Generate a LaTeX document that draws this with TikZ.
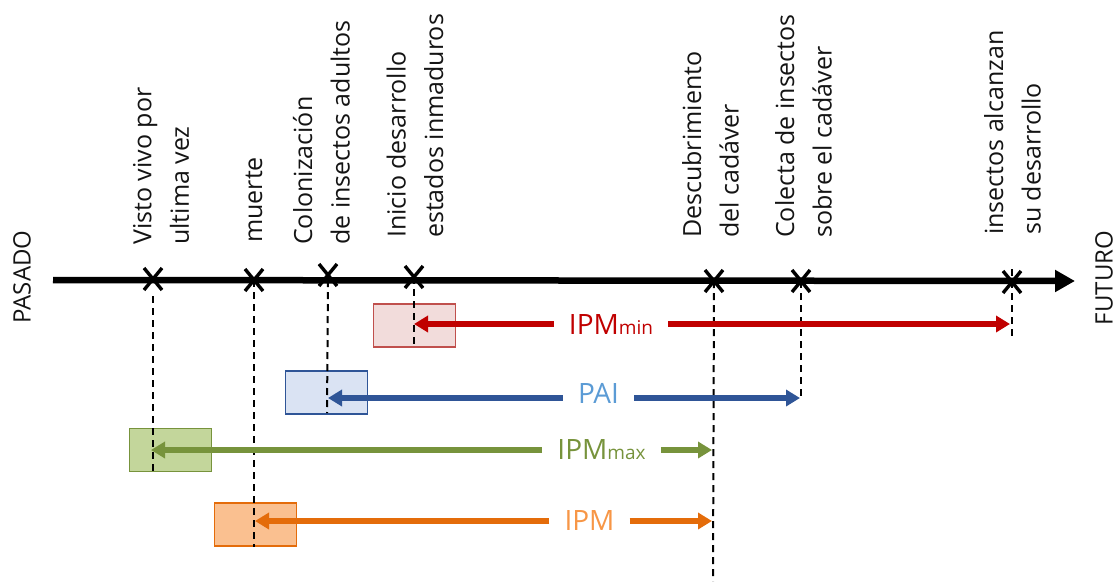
\documentclass[tikz,border=0pt]{standalone}
\usepackage{fontspec}
\setmainfont{Open Sans}
\usetikzlibrary{arrows.meta,shapes.misc}
\definecolor{txt}{HTML}{141414}
\definecolor{redA}{HTML}{C00000}
\definecolor{redB}{HTML}{C0504D}
\definecolor{redF}{HTML}{F2DCDB}
\definecolor{bluA}{HTML}{2F5597}
\definecolor{bluF}{HTML}{DAE3F3}
\definecolor{bluT}{HTML}{5B9BD5}
\definecolor{grnA}{HTML}{77933C}
\definecolor{grnF}{HTML}{C3D69B}
\definecolor{orgA}{HTML}{E46C0A}
\definecolor{orgF}{HTML}{FAC090}
\definecolor{orgT}{HTML}{F79646}
\newcommand\lowtxt[1]{{\fontsize{19}{20}\selectfont #1}}
\begin{document}
\begin{tikzpicture}[x=1pt,y=-1pt,
  evlab/.style={rotate=90, anchor=west, align=left, inner sep=0pt, text=txt,
    font=\fontsize{25}{37.5}\selectfont},
  sidelab/.style={rotate=90, inner sep=0pt, text=txt, font=\fontsize{24}{26}\selectfont},
  xmark/.style={cross out, draw=black, line width=3.4pt, minimum width=18pt,
    minimum height=22pt, inner sep=0pt, outer sep=0pt},
  guide/.style={draw=black, line width=2pt, dash pattern=on 7pt off 5pt},
  box/.style={rectangle, line width=1.8pt, minimum width=82pt, minimum height=43pt,
    inner sep=0pt},
  arr/.style={line width=5.6pt, -{Triangle[length=14pt,width=16pt]}},
  ilab/.style={inner xsep=15pt, inner ysep=0pt, font=\fontsize{28}{30}\selectfont}
]
\useasboundingbox (0,0) rectangle (1118,581);

% positions of the events on the axis
\coordinate (m1) at (153,279);
\coordinate (m2) at (254,280);
\coordinate (m3) at (328,275);
\coordinate (m4) at (414,277);
\coordinate (m5) at (714,281);
\coordinate (m6) at (801,281);
\coordinate (m7) at (1012,282);

% boxes
\node[box, draw=redB, fill=redF] (bmin) at (414.5,325.5) {};
\node[box, draw=bluA, fill=bluF] (bpai) at (326.5,392.5) {};
\node[box, draw=grnA, fill=grnF] (bmax) at (170.5,450) {};
\node[box, draw=orgA, fill=orgF] (bipm) at (255.5,524.5) {};

% dashed guides
\coordinate (e1) at (153,471);
\coordinate (e2) at (254,547);
\coordinate (e3) at (327,413);
\coordinate (e4) at (414,345);
\coordinate (e5) at (713,581);
\coordinate (e6) at (801,400);
\coordinate (e7) at (1012,338);
\draw[guide] ([yshift=-17pt]m1) -- (e1);
\draw[guide] (m2) -- (e2);
\draw[guide] (m3 |- m2) -- (e3);
\draw[guide] (m4) -- (e4);
\draw[guide] (m5) -- (e5);
\draw[guide] (m6) -- (e6);
\draw[guide] ([yshift=13pt]m7) -- (e7);

% axis
\coordinate (a0) at (53,280);
\coordinate (a1) at (1075,281);
\draw[line width=6.5pt, -{Triangle[length=20pt,width=21pt]}] (a0) -- (a1);

% event marks
\node[xmark] (x1) at (m1) {};
\node[xmark] (x2) at (m2) {};
\node[xmark] (x3) at (m3) {};
\node[xmark] (x4) at (m4) {};
\node[xmark] (x5) at (m5) {};
\node[xmark] (x6) at (m6) {};
\node[xmark] (x7) at (m7) {};

% event labels
\node[evlab] (t1) at (161,245) {Visto vivo por\\ultima vez};
\node[evlab] (t2) at (254,243) {muerte};
\node[evlab] (t3) at (321.5,245) {Colonización\\de insectos adultos};
\node[evlab] (t4) at (415,238) {Inicio desarrollo\\estados inmaduros};
\node[evlab] (t5) at (710.5,238) {Descubrimiento\\del cadáver};
\node[evlab] (t6) at (803.5,238) {Colecta de insectos\\sobre el cadáver};
\node[evlab] (t7) at (1012.5,235) {insectos alcanzan\\su desarrollo};

\node[sidelab] (pas) at (22,277) {PASADO};
\node[sidelab] (fut) at (1104,278) {FUTURO};

% IPMmin
\coordinate (rL) at (414,324);
\coordinate (rR) at (1010,324);
\node[ilab, text=redA] (lmin) at (611,324) {IPM\lowtxt{min}};
\draw[arr, redA] (lmin.west |- rL) -- (rL);
\draw[arr, redA] (lmin.east |- rR) -- (rR);

% PAI
\coordinate (pL) at (328,398);
\coordinate (pR) at (800,398);
\node[ilab, text=bluT] (lpai) at (598.5,393) {PAI};
\draw[arr, bluA] (lpai.west |- pL) -- (pL);
\draw[arr, bluA] (lpai.east |- pR) -- (pR);

% IPMmax
\coordinate (gL) at (151,450);
\coordinate (gR) at (712,450);
\node[ilab, text=grnA] (lmax) at (601.5,450) {IPM\lowtxt{max}};
\draw[arr, grnA] (lmax.west |- gL) -- (gL);
\draw[arr, grnA] (lmax.east |- gR) -- (gR);

% IPM
\coordinate (oL) at (255,521);
\coordinate (oR) at (712,521);
\node[ilab, text=orgT] (lipm) at (589.5,520) {IPM};
\draw[arr, orgA] (lipm.west |- oL) -- (oL);
\draw[arr, orgA] (lipm.east |- oR) -- (oR);
\end{tikzpicture}
\end{document}
